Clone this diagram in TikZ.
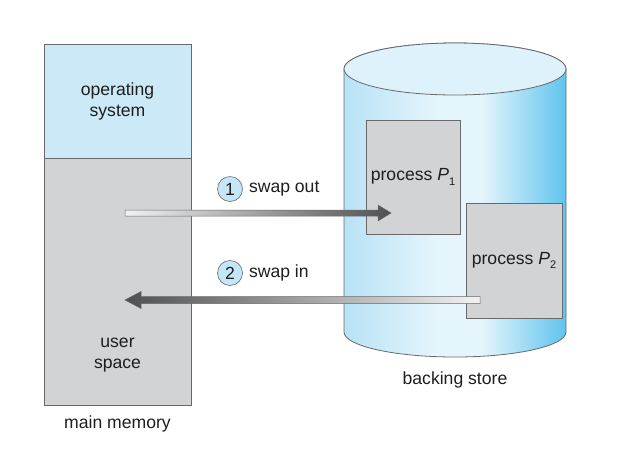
\documentclass[tikz,border=0pt]{standalone}
\usepackage{fontspec}
\setmainfont{Liberation Sans}
\definecolor{osblue}{RGB}{204,233,248}
\definecolor{memgray}{RGB}{210,211,213}
\definecolor{edge}{RGB}{105,105,105}
\definecolor{cylL}{RGB}{184,226,246}
\definecolor{cylM}{RGB}{229,245,252}
\definecolor{cylR}{RGB}{95,196,238}
\definecolor{cyltop}{RGB}{222,242,251}
\definecolor{numblue}{RGB}{196,230,247}
\definecolor{arrlight}{RGB}{242,242,242}
\definecolor{arrdark}{RGB}{80,80,80}
\definecolor{txt}{RGB}{30,30,30}
\pgfdeclarehorizontalshading{cylshade}{100bp}{color(0bp)=(cylL); color(25bp)=(cylL); color(46bp)=(cylM); color(56bp)=(cylM); color(75bp)=(cylR); color(100bp)=(cylR)}
\pgfdeclarehorizontalshading{arrowshade}{100bp}{color(0bp)=(arrlight); color(25bp)=(arrlight); color(75bp)=(arrdark); color(100bp)=(arrdark)}
\begin{document}
\begin{tikzpicture}[x=1pt,y=-1pt,
  every node/.style={font=\fontsize{17.6}{21}\selectfont, text=txt, align=center, inner sep=0pt},
  memblock/.style={draw=edge, line width=0.8pt, minimum width=147pt},
  procbox/.style={draw=edge, line width=0.8pt, fill=memgray},
  numcircle/.style={circle, draw=edge, line width=0.6pt, fill=numblue, minimum size=25pt},
  fatarrow/.style={draw=edge, line width=0.5pt, shading=arrowshade}
]
\useasboundingbox (0,0) rectangle (626,475);
% main memory
\node[memblock, fill=osblue, minimum height=114pt] (os) at (117.5,101) {operating\\system};
\node[memblock, fill=memgray, minimum height=247pt] (user) at (117.5,281.5) {};
\node (us) at (117.5,355) {user\\space};
\node (mm) at (117.5,424) {main memory};
% backing store cylinder
\shadedraw[shading=cylshade, draw=edge, line width=0.8pt]
  (344,69) -- (344,332) .. controls (344,345.8) and (393.7,357) .. (455,357)
  .. controls (516.3,357) and (566,345.8) .. (566,332) -- (566,69)
  .. controls (566,54.6) and (516.3,43) .. (455,43)
  .. controls (393.7,43) and (344,54.6) .. (344,69) -- cycle;
\draw[draw=edge, line width=0.8pt, fill=cyltop] (455,69) ellipse [x radius=111, y radius=26];
\node (bs) at (455,380) {backing store};
% processes
\node[procbox, minimum width=94pt, minimum height=114pt] (p1) at (413,177) {};
\node at (p1.center) {process {\itshape P}\raisebox{-0.45ex}{\fontsize{11}{11}\selectfont 1}};
\node[procbox, minimum width=96pt, minimum height=115pt] (p2) at (514,260.5) {};
\node at (p2.center) {process {\itshape P}\raisebox{-0.45ex}{\fontsize{11}{11}\selectfont 2}};
% arrows
\coordinate (o1) at (125,213);
\coordinate (o2) at (391,213);
\coordinate (i1) at (480,300);
\coordinate (i2) at (125,300);
\shadedraw[fatarrow]
  ([yshift=-3pt]o1) -- ([xshift=-13pt,yshift=-3pt]o2) -- ([xshift=-13pt,yshift=-8pt]o2)
  -- (o2) -- ([xshift=-13pt,yshift=8pt]o2) -- ([xshift=-13pt,yshift=3pt]o2)
  -- ([yshift=3pt]o1) -- cycle;
\shadedraw[fatarrow, shading angle=180]
  ([yshift=-3.5pt]i1) -- ([xshift=16pt,yshift=-3.5pt]i2) -- ([xshift=16pt,yshift=-8.5pt]i2)
  -- (i2) -- ([xshift=16pt,yshift=8.5pt]i2) -- ([xshift=16pt,yshift=3.5pt]i2)
  -- ([yshift=3.5pt]i1) -- cycle;
% labels
\node[numcircle] (n1) at (230,189) {1};
\node[anchor=west] (so) at ([xshift=6pt]n1.east) {swap out};
\node[numcircle] (n2) at (230,273) {2};
\node[anchor=west] (si) at ([xshift=6pt]n2.east) {swap in};
\end{tikzpicture}
\end{document}
